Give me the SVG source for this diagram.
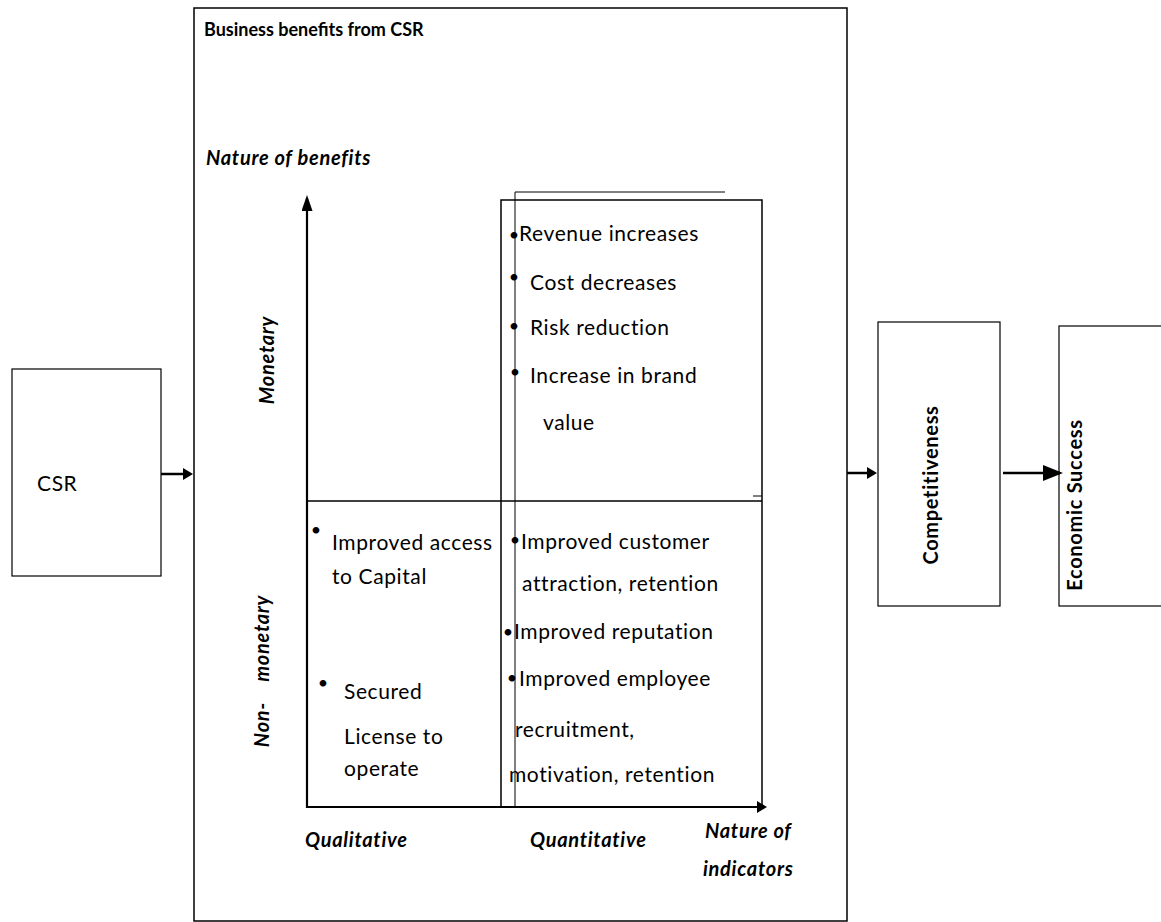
<svg xmlns="http://www.w3.org/2000/svg" width="1161" height="922" viewBox="0 0 1161 922">
  <style>
    .box { fill: #ffffff; stroke: #000000; stroke-width: 1.2; }
    .frame { fill: none; stroke: #000000; stroke-width: 1.5; }
    .thin { fill: none; stroke: #000000; stroke-width: 1; }
    .axis { fill: none; stroke: #000000; stroke-width: 2.2; }
    .flow { fill: none; stroke: #000000; stroke-width: 2.5; }
    text { font-family: Lato, "Open Sans", "Liberation Sans", sans-serif; fill: #000000; }
    .body { font-size: 21px; letter-spacing: 0.6px; }
    .title { font-size: 18px; font-weight: bold; }
    .label { font-size: 20px; font-weight: bold; font-style: italic; letter-spacing: 0.7px; }
    .vlabel { font-size: 20px; font-weight: bold; letter-spacing: 0.7px; }
    .bullet { font-size: 18px; text-anchor: middle; }
  </style>
  <defs>
    <marker id="head" viewBox="0 0 10 12" refX="7" refY="6" markerWidth="10" markerHeight="12" markerUnits="userSpaceOnUse" orient="auto">
      <path d="M0,0 L10,6 L0,12 Z" fill="#000000"/>
    </marker>
    <marker id="headLong" viewBox="0 0 16 11" refX="13" refY="5.5" markerWidth="16" markerHeight="11" markerUnits="userSpaceOnUse" orient="auto">
      <path d="M0,0 L16,5.5 L0,11 Z" fill="#000000"/>
    </marker>
    <marker id="headLarge" viewBox="0 0 20 16" refX="17" refY="8" markerWidth="20" markerHeight="16" markerUnits="userSpaceOnUse" orient="auto">
      <path d="M0,0 L20,8 L0,16 Z" fill="#000000"/>
    </marker>
  </defs>

  <!-- Input node -->
  <g id="node-csr">
    <rect class="box" x="12" y="369" width="149" height="207"/>
    <text class="body" x="37" y="491">CSR</text>
  </g>

  <!-- Central frame with the benefits matrix -->
  <g id="node-benefits">
    <rect class="frame" x="194" y="8" width="653" height="913"/>
    <text class="title" x="204" y="36">Business benefits from CSR</text>
    <text class="label" x="206" y="165">Nature of benefits</text>
    <text class="label" transform="translate(274,360) rotate(-90)" text-anchor="middle">Monetary</text>
    <text class="label" transform="translate(269,671) rotate(-90)" text-anchor="middle" xml:space="preserve">Non-    monetary</text>
    <text class="label" x="305" y="847">Qualitative</text>
    <text class="label" x="530" y="847">Quantitative</text>
    <text class="label" x="705" y="838">Nature of</text>
    <text class="label" x="703" y="876">indicators</text>
  </g>

  <!-- Matrix grid -->
  <g id="matrix-grid">
    <rect class="frame" x="501" y="200" width="261" height="607"/>
    <line class="frame" x1="307" y1="501" x2="762" y2="501"/>
    <polyline class="thin" points="515,807 515,192 725,192"/>
    <line class="thin" x1="753" y1="496" x2="762" y2="496"/>
  </g>

  <!-- Monetary, quantitative benefits -->
  <g id="node-monetary-quantitative">
    <text class="bullet" x="514" y="241">•</text>
    <text class="body" x="519" y="241">Revenue increases</text>
    <text class="bullet" x="514" y="283">•</text>
    <text class="body" x="530" y="290">Cost decreases</text>
    <text class="bullet" x="514" y="332">•</text>
    <text class="body" x="530" y="335">Risk reduction</text>
    <text class="bullet" x="515" y="378">•</text>
    <text class="body" x="530" y="383">Increase in brand</text>
    <text class="body" x="543" y="430">value</text>
  </g>

  <!-- Non-monetary, qualitative benefits -->
  <g id="node-nonmonetary-qualitative">
    <text class="bullet" x="316" y="536">•</text>
    <text class="body" x="332" y="550">Improved access</text>
    <text class="body" x="332" y="584">to Capital</text>
    <text class="bullet" x="323" y="689">•</text>
    <text class="body" x="344" y="699">Secured</text>
    <text class="body" x="344" y="744">License to</text>
    <text class="body" x="344" y="776">operate</text>
  </g>

  <!-- Non-monetary, quantitative benefits -->
  <g id="node-nonmonetary-quantitative">
    <text class="bullet" x="515" y="546">•</text>
    <text class="body" x="521" y="549">Improved customer</text>
    <text class="body" x="522" y="591">attraction, retention</text>
    <text class="bullet" x="508" y="638">•</text>
    <text class="body" x="514" y="639">Improved reputation</text>
    <text class="bullet" x="512" y="684">•</text>
    <text class="body" x="519" y="686">Improved employee</text>
    <text class="body" x="515" y="737">recruitment,</text>
    <text class="body" x="509" y="782">motivation, retention</text>
  </g>

  <!-- Outcome nodes -->
  <g id="node-competitiveness">
    <rect class="box" x="878" y="322" width="122" height="284"/>
    <text class="vlabel" transform="translate(938,485) rotate(-90)" text-anchor="middle">Competitiveness</text>
  </g>
  <g id="node-economic-success">
    <rect class="box" x="1059" y="326" width="110" height="280"/>
    <text class="vlabel" transform="translate(1082,505) rotate(-90)" text-anchor="middle">Economic Success</text>
  </g>

  <!-- Connectors and axes -->
  <g id="connectors">
    <line class="axis" x1="307" y1="808" x2="307" y2="198" marker-end="url(#headLong)"/>
    <line class="axis" x1="306" y1="807" x2="764" y2="807" marker-end="url(#head)"/>
    <line class="flow" x1="161" y1="474" x2="190" y2="474" marker-end="url(#head)"/>
    <line class="flow" x1="847" y1="473" x2="874" y2="473" marker-end="url(#head)"/>
    <line class="flow" x1="1003" y1="473" x2="1060" y2="473" marker-end="url(#headLarge)"/>
  </g>
</svg>
